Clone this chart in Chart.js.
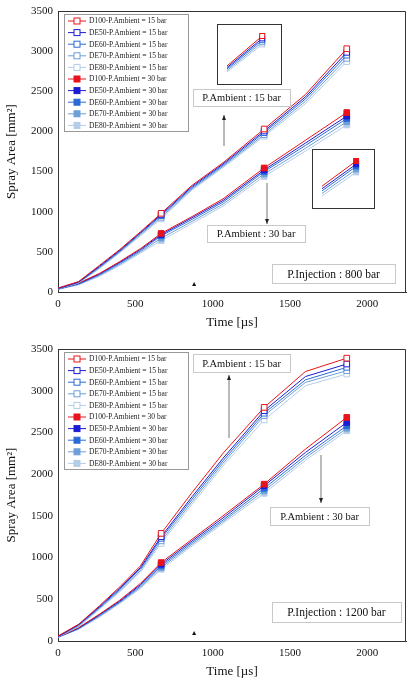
<!DOCTYPE html>
<html>
<head>
<meta charset="utf-8">
<script src="https://cdn.jsdelivr.net/npm/chart.js@4/dist/chart.umd.min.js"></script>
<style>
  body { margin: 0; background: #fff; }
  .box { position: relative; width: 415px; }
</style>
</head>
<body>
<div class="box" style="height:330px"><canvas id="c800" width="415" height="330"></canvas></div>
<div class="box" style="height:349px"><canvas id="c1200" width="415" height="349"></canvas></div>
<script>
// time axis [us], markers drawn at index 5, 8 and 10
const time = [0, 133, 267, 400, 533, 667, 867, 1067, 1333, 1600, 1867];
const markerIdx = [5, 8, 10];
const fuels = ['D100', 'DE50', 'DE60', 'DE70', 'DE80'];
const colors = ['#e8141c', '#1c1cd6', '#2a6ad8', '#6d9fd8', '#b4cde8'];

// P.Injection 800 bar
const inj800_15 = [
  [50, 130, 330, 530, 750, 980, 1330, 1610, 2030, 2460, 3030],
  [45, 125, 320, 520, 740, 965, 1315, 1595, 2005, 2430, 2985],
  [42, 120, 310, 510, 730, 950, 1300, 1580, 1985, 2405, 2950],
  [40, 115, 300, 500, 715, 930, 1285, 1565, 1960, 2375, 2910],
  [38, 110, 290, 490, 700, 910, 1270, 1550, 1940, 2345, 2870]
];
const inj800_30 = [
  [40, 110, 230, 380, 540, 730, 940, 1160, 1545, 1890, 2235],
  [38, 105, 225, 370, 530, 715, 925, 1140, 1520, 1855, 2190],
  [36, 100, 215, 360, 515, 700, 905, 1120, 1500, 1825, 2160],
  [34, 95, 205, 345, 500, 670, 880, 1095, 1470, 1790, 2120],
  [32, 90, 195, 330, 485, 640, 855, 1070, 1440, 1755, 2080]
];
// P.Injection 1200 bar
const inj1200_15 = [
  [60, 200, 420, 650, 900, 1290, 1780, 2250, 2800, 3230, 3390],
  [55, 195, 410, 635, 880, 1250, 1730, 2190, 2760, 3170, 3320],
  [52, 190, 400, 620, 865, 1230, 1700, 2160, 2730, 3130, 3280],
  [50, 180, 390, 605, 845, 1200, 1670, 2130, 2700, 3100, 3240],
  [48, 170, 380, 590, 825, 1170, 1640, 2100, 2650, 3060, 3200]
];
const inj1200_30 = [
  [50, 160, 320, 490, 690, 940, 1220, 1500, 1880, 2300, 2680],
  [48, 155, 315, 480, 675, 920, 1200, 1475, 1860, 2260, 2620],
  [46, 150, 305, 470, 660, 900, 1180, 1450, 1830, 2225, 2580],
  [44, 145, 295, 460, 645, 880, 1160, 1430, 1800, 2195, 2550],
  [42, 140, 285, 450, 630, 860, 1140, 1410, 1770, 2165, 2520]
];

const serif = 'Liberation Serif';

function buildSets(s15, s30) {
  const sets = [];
  [[s15, 15, false], [s30, 30, true]].forEach(function(grp) {
    grp[0].forEach(function(vals, i) {
      sets.push({
        label: fuels[i] + '-P.Ambient = ' + grp[1] + ' bar',
        data: vals.map(function(v, k) { return {x: time[k], y: v}; }),
        borderColor: colors[i],
        backgroundColor: grp[2] ? colors[i] : '#ffffff',
        borderWidth: 1,
        pointStyle: 'rect',
        pointRadius: time.map(function(t, k) { return markerIdx.indexOf(k) >= 0 ? 4 : 0; }),
        pointBorderWidth: 1,
        filled: grp[2]
      });
    });
  });
  return sets;
}

function txtBox(ctx, text, x, y, w, h, size) {
  ctx.fillStyle = '#fff';
  ctx.fillRect(x, y, w, h);
  ctx.strokeStyle = '#c8c8c8';
  ctx.lineWidth = 1;
  ctx.strokeRect(x + 0.5, y + 0.5, w, h);
  ctx.fillStyle = '#111';
  ctx.font = size + 'px "' + serif + '"';
  ctx.textAlign = 'center';
  ctx.textBaseline = 'middle';
  ctx.fillText(text, x + w / 2, y + h / 2 + 1);
}

function arrow(ctx, x, y0, y1) {
  ctx.strokeStyle = '#777';
  ctx.lineWidth = 1;
  ctx.beginPath(); ctx.moveTo(x, y0); ctx.lineTo(x, y1); ctx.stroke();
  const d = y1 < y0 ? 1 : -1;
  ctx.fillStyle = '#222';
  ctx.beginPath();
  ctx.moveTo(x, y1); ctx.lineTo(x - 2, y1 + 5 * d); ctx.lineTo(x + 2, y1 + 5 * d);
  ctx.fill();
}

function marker(ctx, x, y, ds, r) {
  ctx.fillStyle = ds.backgroundColor;
  ctx.strokeStyle = ds.borderColor;
  ctx.lineWidth = 1;
  ctx.fillRect(x - r, y - r, 2 * r, 2 * r);
  ctx.strokeRect(x - r, y - r, 2 * r, 2 * r);
}

const legendPlugin = {
  id: 'legendBox',
  afterDatasetsDraw: function(chart) {
    const ctx = chart.ctx;
    const o = chart.options.plugins.legendBox;
    const x = 64, y = o.top;
    ctx.save();
    ctx.fillStyle = '#fff';
    ctx.fillRect(x, y, 124, 117);
    ctx.strokeStyle = '#999';
    ctx.strokeRect(x + 0.5, y + 0.5, 124, 117);
    ctx.font = '7.5px "' + serif + '"';
    ctx.textAlign = 'left';
    ctx.textBaseline = 'middle';
    chart.data.datasets.forEach(function(ds, i) {
      const yy = y + 7 + i * 11.6;
      ctx.strokeStyle = ds.borderColor;
      ctx.beginPath(); ctx.moveTo(x + 4, yy); ctx.lineTo(x + 22, yy); ctx.stroke();
      marker(ctx, x + 13, yy, ds, 3);
      ctx.fillStyle = '#222';
      ctx.fillText(ds.label, x + 25, yy + 0.5);
    });
    // notes and arrows
    o.boxes.forEach(function(b) { txtBox(ctx, b[0], b[1], b[2], b[3], b[4], b[5]); });
    o.arrows.forEach(function(a) { arrow(ctx, a[0], a[1], a[2]); });
    // insets: last segment of each series enlarged
    o.insets.forEach(function(ins) {
      const bx = ins.x, by = ins.y, bw = ins.w, bh = ins.h;
      ctx.fillStyle = '#fff';
      ctx.fillRect(bx, by, bw, bh);
      ctx.strokeStyle = '#333';
      ctx.strokeRect(bx + 0.5, by + 0.5, bw, bh);
      const sets = chart.data.datasets.filter(function(d) { return d.filled === ins.filled; });
      const n = time.length;
      let lo = Infinity, hi = -Infinity;
      sets.forEach(function(d) {
        lo = Math.min(lo, d.data[n - 2].y); hi = Math.max(hi, d.data[n - 1].y);
      });
      const px = function(t) { return bx + 10 + (t - time[n - 2]) / (time[n - 1] - time[n - 2]) * (bw * 0.55); };
      const py = function(v) { return by + bh - 12 - (v - lo) / (hi - lo) * (bh - 24); };
      sets.slice().reverse().forEach(function(d) {
        ctx.strokeStyle = d.borderColor;
        ctx.beginPath();
        ctx.moveTo(px(d.data[n - 2].x), py(d.data[n - 2].y));
        ctx.lineTo(px(d.data[n - 1].x), py(d.data[n - 1].y));
        ctx.stroke();
      });
      sets.slice().reverse().forEach(function(d) {
        marker(ctx, px(d.data[n - 1].x), py(d.data[n - 1].y), d, 2.5);
      });
    });
    ctx.fillStyle = '#111';
    ctx.beginPath();
    const tx = chart.scales.x.getPixelForValue(880), ty = chart.chartArea.bottom - 6;
    ctx.moveTo(tx, ty - 4); ctx.lineTo(tx - 2, ty); ctx.lineTo(tx + 2, ty); ctx.fill();
    ctx.restore();
  }
};

function makeChart(id, s15, s30, topPad, legendOpts) {
  return new Chart(document.getElementById(id), {
    type: 'line',
    data: { datasets: buildSets(s15, s30) },
    options: {
      responsive: false,
      animation: false,
      layout: { padding: { top: topPad, right: 9, left: 4, bottom: 0 } },
      plugins: { legend: { display: false }, tooltip: { enabled: false }, legendBox: legendOpts },
      scales: {
        x: {
          type: 'linear', min: 0, max: 2250,
          afterBuildTicks: function(s) { s.ticks = s.ticks.filter(function(t) { return t.value % 250 === 0 && t.value < 2250; }); },
          ticks: { stepSize: 250, color: '#111', font: { family: serif, size: 11 }, maxRotation: 0,
                   callback: function(v) { return v % 500 === 0 ? v : ''; } },
          grid: { display: false, drawTicks: true, tickLength: 3, color: '#333' },
          border: { color: '#333' },
          title: { display: true, text: 'Time [µs]', color: '#111', font: { family: serif, size: 13 }, padding: 0 },
          afterFit: function(s) { s.height = 38; }
        },
        y: {
          min: 0, max: 3500,
          afterBuildTicks: function(s) { s.ticks = s.ticks.filter(function(t) { return t.value % 250 === 0; }); },
          ticks: { stepSize: 250, color: '#111', font: { family: serif, size: 11 }, padding: 2,
                   callback: function(v) { return v % 500 === 0 ? v : ''; } },
          grid: { display: false, tickLength: 3 },
          border: { color: '#333' },
          title: { display: true, text: 'Spray Area [mm²]', color: '#111', font: { family: serif, size: 13 }, padding: 0 },
          afterFit: function(s) { s.width = 54; }
        }
      }
    },
    plugins: [legendPlugin, {
      id: 'frame',
      afterDraw: function(chart) {
        const a = chart.chartArea, ctx = chart.ctx;
        ctx.save(); ctx.strokeStyle = '#333'; ctx.lineWidth = 1;
        ctx.beginPath(); ctx.moveTo(a.left, a.top + 0.5); ctx.lineTo(a.right - 0.5, a.top + 0.5); ctx.lineTo(a.right - 0.5, a.bottom); ctx.stroke();
        ctx.restore();
      }
    }]
  });
}

makeChart('c800', inj800_15, inj800_30, 11, {
  top: 14,
  boxes: [['P.Ambient : 15 bar', 193, 89, 97, 17, 10.5],
          ['P.Ambient : 30 bar', 207, 225, 98, 17, 10.5],
          ['P.Injection : 800 bar', 272, 264, 123, 19, 11.5]],
  arrows: [[224, 146, 115], [267, 183, 224]],
  insets: [{x: 217, y: 24, w: 64, h: 60, filled: false}, {x: 312, y: 149, w: 62, h: 59, filled: true}]
});
makeChart('c1200', inj1200_15, inj1200_30, 19, {
  top: 22,
  boxes: [['P.Ambient : 15 bar', 193, 24, 97, 18, 10.5],
          ['P.Ambient : 30 bar', 270, 177, 99, 18, 10.5],
          ['P.Injection : 1200 bar', 272, 272, 129, 20, 11.5]],
  arrows: [[229, 108, 45], [321, 125, 173]],
  insets: []
});
</script>
</body>
</html>
